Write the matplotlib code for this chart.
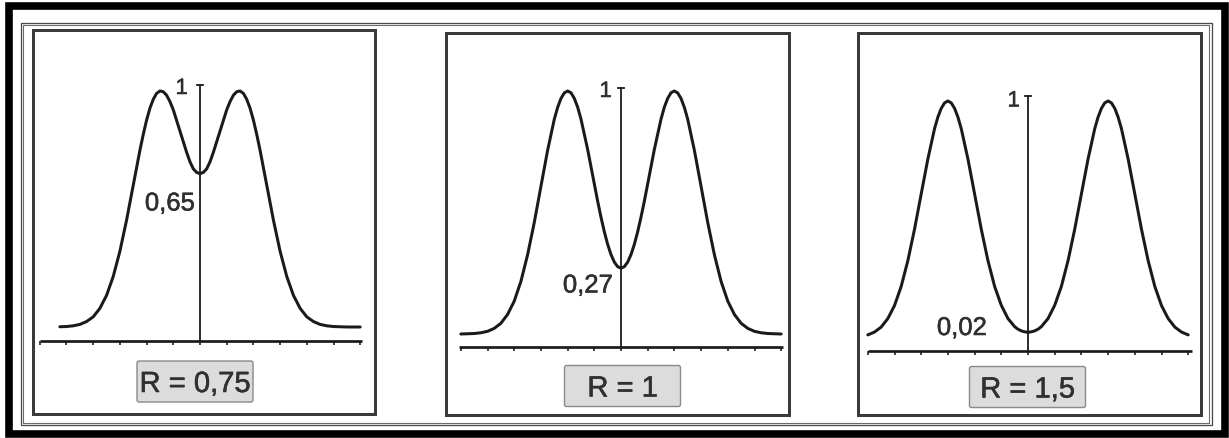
import matplotlib
matplotlib.use("Agg")
import matplotlib.pyplot as plt
import matplotlib.patheffects as pe
from matplotlib.patches import Rectangle, FancyBboxPatch

plt.rcParams['font.family'] = ['Liberation Sans', 'DejaVu Sans']

# ---------------- data ----------------
x_r075 = [-5.25, -5.0, -4.75, -4.5, -4.25, -4.0, -3.75, -3.5, -3.25, -3.0,
          -2.75, -2.5, -2.25, -2.125, -2.0, -1.875, -1.75, -1.625, -1.5, -1.375,
          -1.25, -1.125, -1.0, -0.875, -0.75, -0.625, -0.5, -0.375, -0.25, -0.125,
          0.0, 0.125, 0.25, 0.375, 0.5, 0.625, 0.75, 0.875, 1.0, 1.125,
          1.25, 1.375, 1.5, 1.625, 1.75, 1.875, 2.0, 2.125, 2.25, 2.5,
          2.75, 3.0, 3.25, 3.5, 3.75, 4.0, 4.25, 4.5, 4.75, 5.0,
          5.25, 5.5, 5.75, 6.0]
y_r075 = [0.001, 0.002, 0.005, 0.011, 0.023, 0.043, 0.079, 0.134, 0.214, 0.321,
          0.453, 0.601, 0.749, 0.816, 0.877, 0.927, 0.965, 0.99, 1.00, 0.997,
          0.982, 0.955, 0.92, 0.875, 0.83, 0.785, 0.74, 0.70, 0.67, 0.655,
          0.65, 0.655, 0.67, 0.70, 0.74, 0.785, 0.83, 0.875, 0.92, 0.955,
          0.982, 0.997, 1.00, 0.99, 0.965, 0.927, 0.877, 0.816, 0.749, 0.601,
          0.453, 0.321, 0.214, 0.134, 0.079, 0.043, 0.023, 0.011, 0.005, 0.002,
          0.001, 0.0, 0.0, 0.0]

x_r1 = [-6.0, -5.75, -5.5, -5.25, -5.0, -4.75, -4.5, -4.25, -4.0, -3.75,
        -3.5, -3.25, -3.0, -2.75, -2.5, -2.375, -2.25, -2.125, -2.0, -1.875,
        -1.75, -1.625, -1.5, -1.25, -1.0, -0.875, -0.75, -0.625, -0.5, -0.375,
        -0.25, -0.125,
        0.0, 0.125, 0.25, 0.375, 0.5, 0.625, 0.75, 0.875, 1.0, 1.25,
        1.5, 1.625, 1.75, 1.875, 2.0, 2.125, 2.25, 2.375, 2.5, 2.75,
        3.0, 3.25, 3.5, 3.75, 4.0, 4.25, 4.5, 4.75, 5.0, 5.25,
        5.5, 5.75, 6.0]
y_r1 = [0.000, 0.001, 0.002, 0.005, 0.011, 0.023, 0.044, 0.080, 0.135, 0.216,
        0.325, 0.458, 0.607, 0.755, 0.883, 0.932, 0.969, 0.992, 1.000, 0.993,
        0.970, 0.934, 0.885, 0.760, 0.618, 0.547, 0.481, 0.421, 0.369, 0.327,
        0.296, 0.277,
        0.271, 0.277, 0.296, 0.327, 0.369, 0.421, 0.481, 0.547, 0.618, 0.760,
        0.885, 0.934, 0.970, 0.993, 1.000, 0.992, 0.969, 0.932, 0.883, 0.755,
        0.607, 0.458, 0.325, 0.216, 0.135, 0.080, 0.044, 0.023, 0.011, 0.005,
        0.002, 0.001, 0.000]

x_r15 = [-6.0, -5.75, -5.5, -5.25, -5.0, -4.75, -4.5, -4.25, -4.0, -3.75,
         -3.5, -3.375, -3.25, -3.125, -3.0, -2.875, -2.75, -2.625, -2.5, -2.25,
         -2.0, -1.75, -1.5, -1.25, -1.0, -0.75, -0.5, -0.375, -0.25, -0.125,
         0.0, 0.125, 0.25, 0.375, 0.5, 0.75, 1.0, 1.25, 1.5, 1.75,
         2.0, 2.25, 2.5, 2.625, 2.75, 2.875, 3.0, 3.125, 3.25, 3.375,
         3.5, 3.75, 4.0, 4.25, 4.5, 4.75, 5.0, 5.25, 5.5, 5.75,
         6.0]
y_r15 = [0.011, 0.023, 0.044, 0.080, 0.135, 0.216, 0.325, 0.458, 0.607, 0.755,
         0.883, 0.932, 0.969, 0.992, 1.000, 0.992, 0.969, 0.932, 0.883, 0.755,
         0.607, 0.458, 0.325, 0.216, 0.136, 0.080, 0.046, 0.035, 0.028, 0.024,
         0.022, 0.024, 0.028, 0.035, 0.046, 0.080, 0.136, 0.216, 0.325, 0.458,
         0.607, 0.755, 0.883, 0.932, 0.969, 0.992, 1.000, 0.992, 0.969, 0.932,
         0.883, 0.755, 0.607, 0.458, 0.325, 0.216, 0.135, 0.080, 0.044, 0.023,
         0.011]

r_labels = ["R = 0,75", "R = 1", "R = 1,5"]
dip_labels = ["0,65", "0,27", "0,02"]
top_label = "1"
axis_ticks = [-6, -5, -4, -3, -2, -1, 0, 1, 2, 3, 4, 5, 6]

series = [(x_r075, y_r075), (x_r1, y_r1), (x_r15, y_r15)]

# ---------------- layout (pixels) ----------------
W, H, DPI = 1229, 439, 100
UNIT = 26.7
PX = 0.72  # points per pixel

panels = [
    dict(box=(33, 31, 375, 415), ax_x=200, y0=328, y1=92, base=342, top=86,
         rbox=(195, 382.5), dip=(195, 211.5), one=(188, 95), xb=(-6.0, 6.05)),
    dict(box=(446, 34, 789, 416), ax_x=621, y0=335, y1=92, base=348, top=89,
         rbox=(622.5, 387), dip=(613, 293.5), one=(612, 98), xb=(-6.05, 6.05)),
    dict(box=(858, 34, 1201, 416), ax_x=1028, y0=338.5, y1=102, base=351.5, top=97,
         rbox=(1027.5, 388), dip=(987, 336), one=(1020, 107.5), xb=(-6.0, 6.15)),
]

fig = plt.figure(figsize=(W / DPI, H / DPI), dpi=DPI)
fig.patch.set_facecolor('white')

# outer frames
ov = fig.add_axes([0, 0, 1, 1])
ov.set_xlim(0, W)
ov.set_ylim(H, 0)
ov.axis('off')
ov.add_patch(Rectangle((8.8, 6.6), 1225.2 - 8.8, 435.2 - 6.6, fill=False,
                       ec='black', lw=7.6 * PX))
ov.add_patch(Rectangle((20.5, 23.5), 1211.5 - 20.5, 426.5 - 23.5, fill=False,
                       ec='#4a4a4a', lw=1.3 * PX))
ov.add_patch(Rectangle((23.0, 26.0), 1209.0 - 23.0, 424.0 - 26.0, fill=False,
                       ec='#6a6a6a', lw=1.1 * PX))

line_col = '#1a1a1a'
text_col = '#303030'
thick = [pe.withStroke(linewidth=0.4, foreground=text_col)]

for p, (xs, ys), rl, dl in zip(panels, series, r_labels, dip_labels):
    L, T, R, B = p['box']
    ax_x, y0, y1 = p['ax_x'], p['y0'], p['y1']
    s = y0 - y1

    def dx(px):
        return (px - ax_x) / UNIT

    def dy(py):
        return (y0 - py) / s

    ax = fig.add_axes([L / W, 1 - B / H, (R - L) / W, (B - T) / H])
    ax.set_xlim(dx(L), dx(R))
    ax.set_ylim(dy(B), dy(T))
    ax.set_xticks([])
    ax.set_yticks([])
    ax.set_facecolor('white')
    for sp in ax.spines.values():
        sp.set_linewidth(3.0 * PX)
        sp.set_color('#3a3a3a')

    base = dy(p['base'])
    top = dy(p['top'])
    # baseline with ticks
    ax.plot(list(p['xb']), [base, base], color=line_col, lw=2.7 * PX,
            solid_capstyle='butt')
    ax.vlines(axis_ticks, base - 4.0 / s, base, color=line_col, lw=1.6 * PX)
    # vertical axis with top tick
    ax.plot([0, 0], [base, top], color=line_col, lw=1.8 * PX)
    ax.plot([-0.13, 0.13], [top, top], color=line_col, lw=1.8 * PX)

    # curve
    ax.plot(xs, ys, color=line_col, lw=3.0 * PX, solid_joinstyle='round',
            solid_capstyle='round')

    # labels
    ax.text(dx(p['one'][0]), dy(p['one'][1]), top_label, ha='right',
            va='baseline', fontsize=16, color=text_col, path_effects=thick)
    ax.text(dx(p['dip'][0]), dy(p['dip'][1]), dl, ha='right',
            va='baseline', fontsize=18.5, color=text_col, path_effects=thick)

    cx, cy = p['rbox']
    bw, bh = 116, 41
    ax.add_patch(FancyBboxPatch((dx(cx - bw / 2), dy(cy + bh / 2)),
                                bw / UNIT, bh / s,
                                boxstyle='round,pad=0,rounding_size=0.08',
                                fc='#dcdcdc', ec='#8a8a8a', lw=1.4 * PX,
                                mutation_aspect=UNIT / s))
    ax.text(dx(cx), dy(cy + 10.5), rl, ha='center', va='baseline',
            fontsize=21, color=text_col, path_effects=thick)

fig.savefig('out.png', dpi=DPI, facecolor='white')
